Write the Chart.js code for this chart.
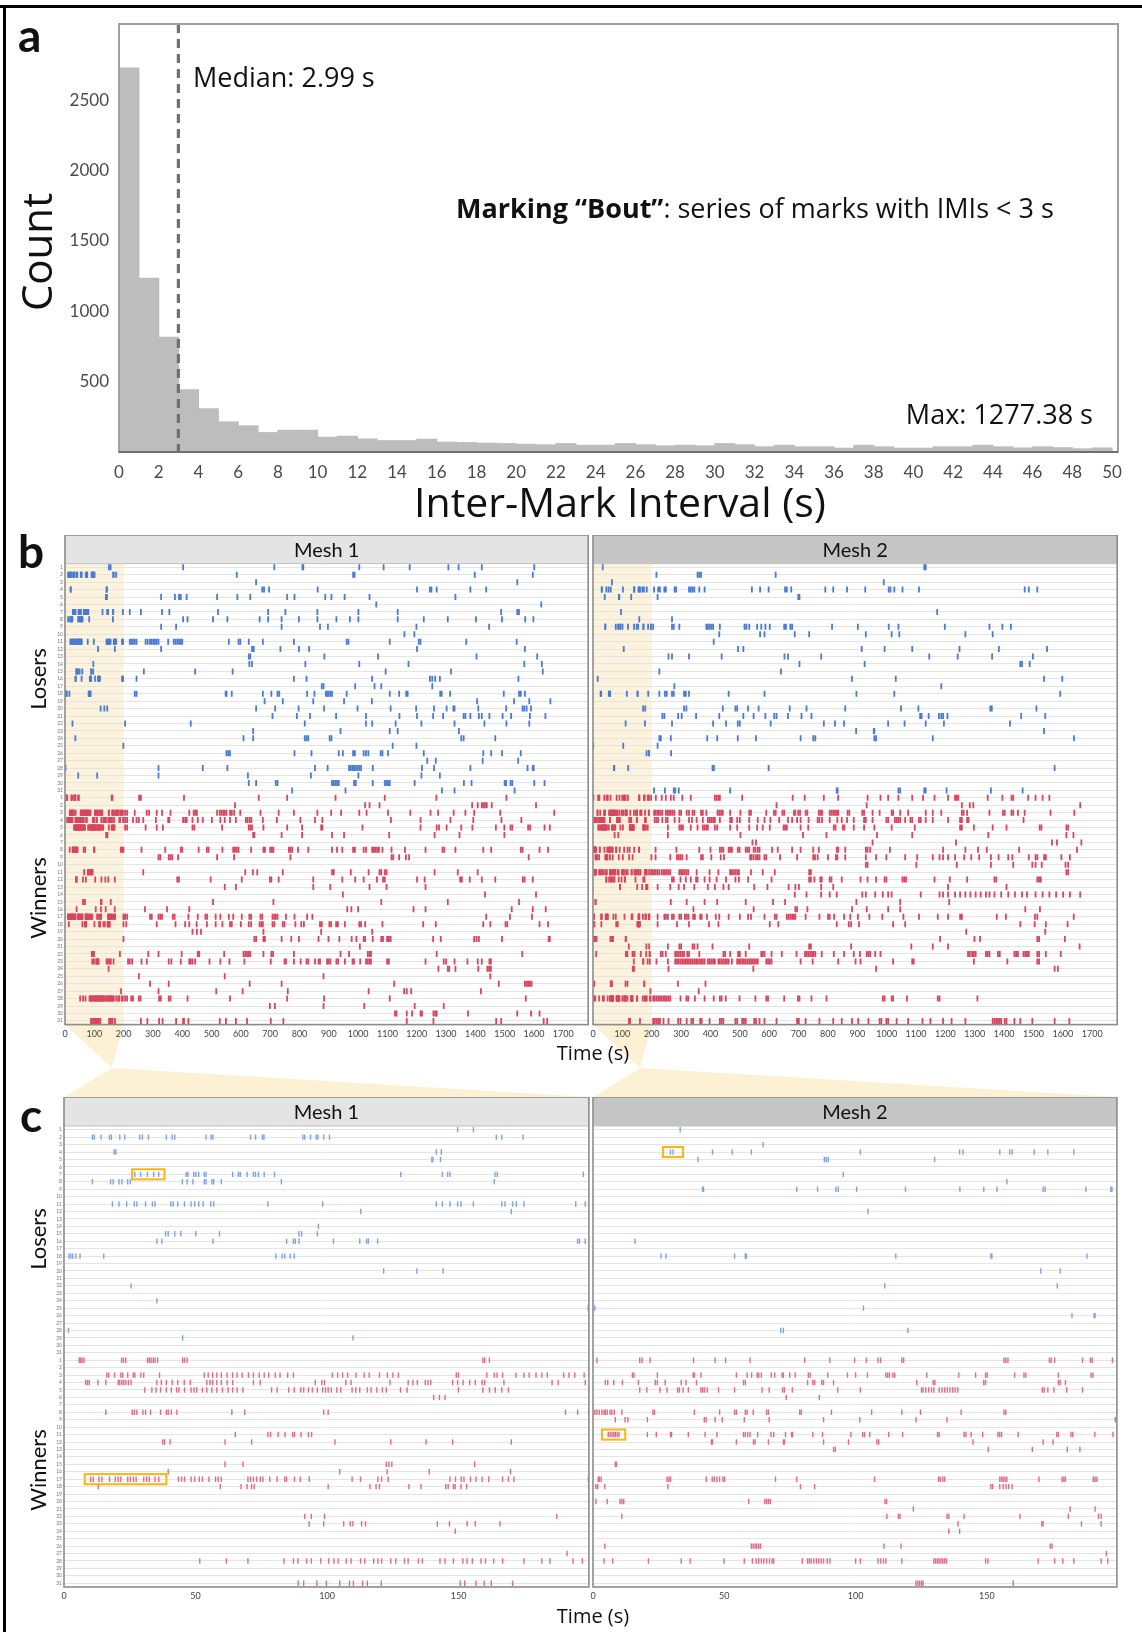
<!DOCTYPE html>
<html><head><meta charset="utf-8">
<script src="https://cdn.jsdelivr.net/npm/chart.js@4.4.1/dist/chart.umd.min.js"></script>
<style>
body{margin:0;background:#fff;}
#page{position:relative;width:1142px;height:1632px;overflow:hidden;font-family:Lato,'Noto Sans',sans-serif;background:#fff;}
canvas{position:absolute;}
.t{position:absolute;white-space:nowrap;color:#111;line-height:1;}
.os{font-family:'Open Sans','Noto Sans',sans-serif;}
.rot{transform:translate(-50%,-50%) rotate(-90deg);}
.lbl{font-weight:bold;font-size:46px;}
</style></head><body><div id="page">
<div style="position:absolute;left:0;top:5px;width:1142px;height:3px;background:#000"></div>
<div style="position:absolute;left:3px;top:5px;width:3px;height:1627px;background:#000"></div>
<canvas id="bg" width="1142" height="1632" style="left:0;top:0"></canvas>
<canvas id="hist" width="1085" height="480" style="left:45px;top:10px"></canvas>
<canvas id="b1" width="553" height="510" style="left:40px;top:535px"></canvas>
<canvas id="b2" width="539" height="510" style="left:583px;top:535px"></canvas>
<canvas id="c1" width="554" height="510" style="left:39px;top:1097px"></canvas>
<canvas id="c2" width="538" height="510" style="left:583px;top:1097px"></canvas>
<div class="t lbl" style="left:18px;top:12px">a</div>
<div class="t rot os" style="left:36px;top:252px;font-size:42px">Count</div>
<div class="t os" style="left:620px;top:501px;transform:translate(-50%,-50%);font-size:41px">Inter-Mark Interval (s)</div>
<div class="t os" style="left:193px;top:76px;transform:translateY(-50%);font-size:27px">Median: 2.99 s</div>
<div class="t os" style="left:456px;top:207px;transform:translateY(-50%);font-size:27px"><b>Marking “Bout”</b>: series of marks with IMIs &lt; 3 s</div>
<div class="t os" style="right:49px;top:413px;transform:translateY(-50%);font-size:27px">Max: 1277.38 s</div>
<div class="t lbl" style="left:18px;top:528px">b</div>
<div class="t rot" style="left:38px;top:679px;font-size:22px">Losers</div>
<div class="t rot" style="left:38px;top:898px;font-size:22px">Winners</div>
<div class="t os" style="left:593px;top:1053px;transform:translate(-50%,-50%);font-size:20px">Time (s)</div>
<div class="t lbl" style="left:20px;top:1092px">c</div>
<div class="t rot" style="left:38px;top:1239px;font-size:22px">Losers</div>
<div class="t rot" style="left:38px;top:1470px;font-size:22px">Winners</div>
<div class="t os" style="left:593px;top:1616px;transform:translate(-50%,-50%);font-size:20px">Time (s)</div>
</div>
<script>
// ---------- Panel a: histogram of inter-mark intervals ----------
const imiBinStarts = [0,1,2,3,4,5,6,7,8,9,10,11,12,13,14,15,16,17,18,19,20,21,22,23,24,25,26,27,28,29,30,31,32,33,34,35,36,37,38,39,40,41,42,43,44,45,46,47,48,49];
const imiCounts = [2727,1234,815,441,306,213,185,137,154,154,104,111,92,80,80,90,69,66,62,59,54,50,59,47,47,59,50,43,47,43,59,50,36,47,36,36,26,47,36,26,26,36,36,47,36,28,36,30,22,28];
const imiMedian = 2.99;
const histXTicks = [0,2,4,6,8,10,12,14,16,18,20,22,24,26,28,30,32,34,36,38,40,42,44,46,48,50];
const histYTicks = [500,1000,1500,2000,2500];

// ---------- Panels b/c: marking rasters ----------
const meshNames = ['Mesh 1','Mesh 2'];
const fullTimeTicks = [0,100,200,300,400,500,600,700,800,900,1000,1100,1200,1300,1400,1500,1600,1700];
const zoomTimeTicks = [0,50,100,150];
const zoomWindow = [0,200];

// marks in the first 200 s, one list per animal
const mesh1LosersEarly = [
[149.6,155.6],
[10.8,11.5,14.1,17.3,18.0,21.2,23.1,28.8,29.8,32.1,38.9,41.1,42.1,54.0,55.9,56.6,70.9,72.8,75.4,76.0,90.8,91.5,93.7,95.8,96.5,98.7,100.9,164.3,166.4,174.5],
[],
[19.0,19.7,141.5,143.4],
[139.8,140.2,143.1],
[],
[26.9,29.1,31.7,34.1,36.0,46.4,47.1,49.3,50.1,51.2,53.3,54.0,64.1,66.3,67.0,69.6,72.0,72.8,73.9,76.1,80.0,128.0,143.8,145.8,146.7,163.8,164.7,197.4],
[10.8,17.7,18.7,20.9,22.0,24.2,25.2,45.0,46.8,49.0,53.3,54.0,56.2,56.9,59.8,82.6,163.5],
[],
[],
[18.4,20.9,23.8,26.7,27.7,31.0,33.6,34.6,40.6,41.5,43.2,45.8,48.3,49.7,51.2,52.9,55.8,56.9,77.5,98.3,141.5,143.8,146.7,149.6,150.9,155.6,166.4,167.6,170.5,171.9,174.8,194.5,198.1],
[112.8,170.0],
[],
[96.7],
[38.6,39.6,42.1,44.4,50.1,59.1,89.3,90.3,96.3],
[35.3,37.2,56.6,84.6,87.2,87.9,89.3,102.4,112.4,115.0,115.7,119.2,195.2,195.9,198.1],
[],
[1.9,2.6,3.3,4.5,6.1,15.1,80.5,82.9,83.9,86.0,87.5],
[],
[121.5,134.1,144.1],
[],
[25.5],
[],
[35.3],
[199.2],
[],
[],
[1.7],
[45.1,109.8],
[],
[]
];
const mesh1WinnersEarly = [
[5.8,6.2,6.9,7.6,21.9,22.6,23.5,31.7,32.4,33.1,33.9,34.6,35.6,45.1,45.8,46.8,159.2,159.9,161.7],
[],
[16.3,17.0,19.2,21.6,22.3,24.2,26.3,26.9,29.2,30.3,36.3,53.3,54.8,56.5,58.1,59.8,62.0,64.1,65.8,67.7,70.1,72.0,74.2,76.1,77.8,80.3,82.1,85.0,87.2,102.0,104.0,105.9,107.8,111.0,114.1,116.0,119.9,122.9,125.0,127.1,149.1,149.9,160.7,163.5,164.6,166.7,171.8,174.8,176.8,179.4,181.6,183.7,189.9,191.9,194.1,197.7],
[8.2,8.9,9.6,12.9,15.9,20.6,21.2,22.0,22.7,23.5,24.5,25.5,35.3,37.0,38.9,41.1,43.2,45.7,48.0,54.3,55.5,56.5,58.1,59.8,62.0,64.1,72.0,74.6,95.5,98.0,99.0,107.1,109.1,123.9,130.8,132.6,134.3,137.3,138.3,139.4,147.7,149.6,151.7,154.2,156.3,158.9,159.9,167.2,185.5,187.8,198.1],
[30.7,33.4,35.0,36.7,38.9,40.8,42.8,43.7,45.8,48.3,49.4,50.4,52.6,54.3,56.2,58.1,60.2,62.4,64.1,65.8,68.0,78.9,81.0,85.4,87.5,90.0,91.1,92.9,94.4,96.3,98.3,99.4,100.4,101.6,103.7,105.2,109.5,110.9,112.4,115.3,116.7,118.9,121.0,122.5,127.9,130.4,149.9,159.2,161.7,163.9,166.4,168.9],
[140.5,142.7,144.8],
[],
[15.9,25.9,26.7,27.7,30.0,31.0,32.9,36.7,38.9,39.6,40.8,42.9,63.8,68.7,98.7,100.4,190.6,195.2,199.4],
[],
[],
[65.1,77.5,78.5,81.4,84.0,86.9,87.6,90.1,92.9,94.1],
[37.5,38.2,40.3,61.2,71.3,103.0,124.2,137.6,147.7,170.0],
[],
[],
[61.2,68.0,122.5,123.5,124.6,156.1],
[39.6,104.8,122.8,138.8,169.7],
[10.1,11.1,13.3,14.4,17.3,19.5,20.6,21.6,24.2,25.2,26.4,27.4,30.3,31.4,32.4,34.6,36.0,43.5,44.7,45.8,48.3,49.7,51.4,52.6,55.1,57.6,58.6,59.8,69.9,70.9,72.0,73.2,74.6,75.6,78.2,81.0,83.9,84.6,87.6,89.8,93.2,109.5,112.7,119.3,120.7,123.2,146.7,148.8,151.0,152.0,154.5,156.6,158.9,161.4,166.7,168.9,171.0,199.3],
[13.0,59.4,67.3,69.6,71.3,72.3,100.4,116.3,118.6,119.9,131.1,135.7,145.1,146.0,148.0,148.7,150.9,153.0,199.4],
[],
[199.5],
[],
[91.5,94.0,99.0,187.3],
[93.2,98.7,106.3,108.8,109.8,113.1,114.6,141.9,146.5,153.2,156.3,165.7],
[148.7],
[],
[],
[191.2],
[51.6,61.7,69.9,83.6,87.2,88.9,92.2,94.0,97.6,100.6,102.6,104.2,107.3,109.1,112.7,114.3,117.7,119.3,120.7,124.2,126.1,129.4,130.8,134.7,136.2,142.9,144.8,148.0,151.6,153.2,155.2,158.5,160.2,163.3,166.7,174.8,181.6,184.7,193.5,197.0],
[],
[],
[89.0,91.1,96.1,99.7,104.8,108.5,110.0,113.5,115.3,120.6,150.6,152.3,156.6,159.7,162.4,170.5]
];
const mesh2LosersEarly = [
[33.2],
[],
[64.8],
[29.5,30.5,45.5,53.0,60.3,101.8,139.6,140.9,154.9,158.7,159.6,168.0,173.2,183.1],
[40.0,88.1,88.8,89.6,130.1],
[],
[95.3],
[157.6],
[41.7,42.1,77.6,85.5,92.5,93.4,100.4,119.0,139.7,148.8,153.8,171.4,172.2,187.7,197.2,197.6],
[],
[],
[104.7],
[],
[],
[],
[16.0],
[],
[25.9,27.8,53.9,58.0,58.4,115.3,151.5,151.9,188.1],
[],
[170.5,177.9],
[],
[111.1,176.8],
[],
[],
[0.7,103.0],
[182.4,190.8,191.2],
[],
[71.5,72.5,119.9],
[],
[],
[]
];
const mesh2WinnersEarly = [
[1.5,17.8,18.7,21.7,38.3,46.5,50.5,59.8,80.6,90.2,99.6,104.1,108.5,109.5,117.6,118.3,156.5,157.2,158.0,173.8,174.5,175.8,186.4,189.4,190.1,197.8],
[],
[15.0,15.6,24.5,38.1,38.6,41.1,54.6,58.7,60.4,62.5,63.1,64.1,67.9,69.2,72.0,72.5,74.9,77.0,82.0,82.7,89.4,96.9,100.0,104.5,111.5,112.2,112.9,114.2,114.9,127.1,139.3,145.7,149.5,150.1,160.6,164.1,164.8,177.2,189.7,190.4],
[4.7,5.6,7.9,11.2,17.3,23.7,24.5,27.5,33.6,35.4,39.4,57.3,58.0,81.7,83.7,84.4,87.1,87.8,91.6,123.3,129.5,130.2,148.8,149.5,177.2,177.9,179.9],
[17.8,20.5,25.5,28.2,32.2,32.9,34.3,36.3,41.1,41.7,42.4,43.5,47.8,53.9,64.4,67.1,72.2,72.9,75.9,93.2,101.8,125.1,125.7,126.7,127.8,128.9,129.8,131.8,132.9,133.9,134.9,135.9,137.0,137.9,138.9,171.1,171.8,173.2,175.5,180.4,186.4],
[73.6,86.2],
[],
[0.7,1.5,2.4,3.4,4.2,4.7,5.4,6.5,7.2,8.1,11.0,22.8,23.4,38.6,48.2,53.9,54.6,58.0,58.7,61.0,66.1,66.8,78.7,79.3,90.8,106.1,117.6,124.7,140.2,156.5,157.2],
[8.5,12.2,13.3,20.7,42.4,43.1,46.5,49.2,57.6,67.1,87.8,101.6,123.0,134.8,198.9],
[],
[5.8,6.5,7.2,7.9,8.5,9.2,9.9,20.7,24.1,29.5,29.9,36.3,42.7,47.2,57.3,58.0,58.9,59.8,62.7,67.8,68.8,73.3,75.6,76.0,83.7,87.4,98.2,102.7,103.4,105.4,112.6,117.9,131.2,131.8,141.3,142.0,144.0,148.4,154.2,154.9,155.6,161.9,176.6,177.2,182.0,182.7,191.1,198.0],
[45.1,45.5,54.6,61.1,61.7,66.8,72.5,72.9,87.8,97.3,108.1,108.8,144.7,171.4,175.2],
[91.6,92.3,150.5,167.3,180.6,185.4],
[],
[8.5,8.9],
[],
[2.0,2.4,3.1,28.2,28.9,29.5,43.1,45.4,46.2,47.2,48.2,49.5,50.1,69.5,77.6,107.2,131.6,132.2,133.2,133.9,154.9,155.6,156.2,156.9,157.6,169.8,178.6,179.3,179.9,190.5,191.2,191.9],
[1.1,1.8,4.5,28.5,79.0,84.4,151.5,152.2,154.9,156.2,157.3,158.3,159.6],
[],
[1.1,5.4,10.3,11.0,11.7,59.3,65.4,66.1,66.8,67.5,111.2,111.8],
[122.0,181.7,191.2],
[11.0,111.9,116.3,116.9,134.8,135.5,141.3,162.6,181.0,192.5,193.5],
[139.0,170.9,171.4,186.0,193.5],
[135.5,139.6],
[],
[4.5,60.3,61.0,61.7,62.3,63.1,63.8,110.8,117.3,174.1,174.8],
[195.5],
[4.2,7.5,21.1,33.6,37.0,49.9,57.6,60.7,62.1,63.1,64.1,65.0,66.1,67.2,68.2,68.8,79.7,81.7,82.4,83.1,84.1,85.1,86.0,86.9,87.8,89.2,90.2,100.0,101.8,108.5,109.5,110.6,111.5,117.6,129.8,130.5,131.2,131.8,132.5,133.2,133.9,134.6,149.5,150.4,169.5,175.8,178.9,183.1,193.5,196.0],
[],
[],
[123.0,123.7,124.4,125.1,125.7,160.0]
];

// marks after 200 s, one list per animal
const mesh1LosersLate = [
[403,714,810,813,1004,1087,1176,1308,1343,1422,1601],
[586,983,988,1398,1596],
[652,1543],
[673,679,696,862,1201,1245,1250,1268,1383,1437],
[328,375,389,395,415,519,588,632,758,783,888,909,954,1039,1332],
[1062,1625],
[221,259,331,356,522,693,752,861,1001,1135,1488,1543,1549],
[403,418,505,554,664,693,739,798,861,926,972,1001,1135,1224,1306,1402,1491,1570,1598],
[328,379,739,870,897,1199,1447],
[1158,1192],
[221,226,232,238,244,275,282,290,296,302,307,313,319,352,371,377,383,389,395,400,559,592,598,627,675,781,961,967,1108,1207,1213,1369,1541],
[328,638,644,735,798,833,1201,1569],
[627,632,885,1068,1404,1611],
[629,638,820,1004,1172,1567,1627],
[269,444,572,1094,1317,1630],
[244,781,824,1048,1245,1253,1263,1279,1547],
[876,882,990,1056,1079,1253],
[238,244,548,551,569,675,704,725,731,826,851,890,894,899,905,911,961,1108,1140,1164,1169,1280,1285,1314,1497,1549,1555,1569],
[681,743,847,952,1047,1406,1532,1584,1656],
[652,717,797,884,998,1111,1198,1259,1302,1325,1329,1410,1505,1561,1567,1575,1590],
[708,791,836,925,1027,1141,1201,1256,1290,1360,1366,1383,1412,1422,1448,1493,1522,1586,1639],
[205,429,818,1027,1048,1128,1216,1329,1431,1506,1584],
[642,940,1108,1135,1344],
[609,642,818,824,830,903,909,1352,1360,1468],
[1118,1199],
[551,557,563,783,841,934,948,983,989,1019,1027,1035,1077,1083,1102,1224,1427,1454,1491,1555],
[1236,1265,1425,1546],
[319,470,554,853,896,969,975,981,986,992,998,1004,1010,1050,1218,1259,1383,1578,1596,1599],
[319,624,839,1001,1216,1279],
[627,652,719,725,911,917,923,928,934,986,992,1050,1091,1097,1102,1108,1193,1361,1387,1500,1505,1520,1526,1601,1636],
[775,957,1286,1329,1534]
];
const mesh1WinnersLate = [
[253,259,406,661,758,923,1091,1267,1506],
[580,1024,1039,1073,1389,1408,1422,1427,1433,1439,1456,1607],
[205,212,238,279,287,313,331,360,424,439,444,450,519,528,534,540,545,551,563,569,577,598,667,729,781,861,908,942,1004,1029,1102,1178,1247,1273,1326,1366,1396,1485,1669],
[205,212,232,244,252,267,310,352,356,403,410,415,435,453,470,501,530,545,563,583,617,623,630,636,675,723,803,853,878,1112,1213,1315,1393,1489,1557],
[205,212,275,313,334,435,441,536,627,632,638,677,758,809,874,878,1015,1213,1268,1276,1302,1352,1390,1470,1499,1520,1526,1580,1587,1636,1654],
[642,646,739,809,911,952,1106,1261,1346,1499],
[],
[261,342,395,400,456,484,490,537,574,580,586,592,635,677,682,700,706,711,764,769,775,795,830,911,928,946,983,989,1019,1027,1048,1054,1059,1065,1071,1083,1114,1160,1230,1288,1294,1332,1427,1454,1555,1561,1619,1648],
[319,325,354,360,366,386,519,577,769,1114,1120,1140,1163,1174,1582],
[],
[267,615,641,656,743,911,917,975,1036,1073,1079,1091,1097,1261,1340,1408],
[383,389,497,603,699,704,729,847,946,990,1019,1064,1085,1091,1201,1227,1348,1354,1381,1422,1468,1562,1568,1596],
[545,583,847,905,1039,1097,1230],
[948,1433,1607],
[505,711,1079,1306,1549],
[273,348,424,963,977,1000,1189,1230,1524,1596,1640],
[201,205,212,290,296,319,325,331,368,374,421,453,479,485,514,530,559,574,603,629,635,667,673,708,714,719,725,754,783,826,844,1437,1518,1593],
[209,313,377,410,424,449,484,514,537,563,569,600,627,635,664,670,675,708,714,743,749,786,806,815,870,876,902,908,925,931,955,1004,1010,1024,1083,1222,1265,1427,1451,1503,1509,1619,1648],
[435,450,464,677,874,1048],
[646,652,677,682,739,772,798,865,899,936,978,994,1019,1024,1050,1079,1085,1099,1105,1111,1256,1282,1396,1404,1412,1491,1650,1654],
[1006],
[284,319,398,453,458,543,609,615,621,627,632,677,704,710,781,940,969,1033,1039,1044,1268,1560],
[215,221,229,261,279,354,363,395,424,429,435,444,493,530,561,612,702,749,754,781,804,824,830,853,865,870,894,899,905,926,932,955,981,986,1007,1027,1033,1039,1044,1099,1105,1230,1292,1300,1329,1373,1408,1422,1448,1453],
[1274,1306,1311,1332,1410,1441,1447,1453],
[252,545,882,1451],
[290,354,630,739,1123,1480,1569,1575,1580,1586,1592],
[319,516,606,760,1036,1157,1166,1181,1419],
[205,212,226,232,252,258,321,327,354,360,418,563,758,884,1108,1572],
[699,716,882,1021,1193,1292],
[1126,1131,1166,1184,1213,1218,1257,1263,1268,1375,1543,1590,1619],
[259,281,321,333,379,403,406,421,528,549,583,621,702,745,1166,1257,1471,1488,1633,1645]
];
const mesh2LosersLate = [
[1128,1133],
[216,356,362,368,622],
[990],
[208,222,228,243,248,278,283,327,333,339,345,362,380,541,569,598,654,660,675,791,818,865,927,1007,1013,1026,1054,1110,1470,1484,1513],
[220,699,703],
[],
[1172],
[269],
[205,269,275,294,386,391,397,403,409,432,516,522,532,559,573,587,602,651,657,672,678,814,902,1007,1040,1198,1350,1394,1423],
[430,569,584,687,736,929,1017,1043,1268,1361],
[411],
[494,512,915,993,1087,1248,1382,1546],
[257,269,327,438,652,664,777,1145,1242,1359,1498],
[703,925,1455,1461,1487],
[226,640],
[882,1031,1536,1598],
[277,1186],
[226,245,251,269,275,310,316,327,462,584,897,1026,1591],
[],
[310,318,442,485,491,528,564,670,727,859,1049,1108,1353,1358,1510],
[236,243,290,302,351,430,512,547,587,617,625,664,710,744,1114,1119,1143,1178,1186,1192,1207,1458,1540],
[269,409,453,493,500,605,786,824,855,1005,1061,1133,1195,1420],
[896,956,958,1536],
[226,231,265,389,423,493,555,707,750,757,958,964,1157,1638],
[220],
[266],
[],
[407,412,598,1572],
[],
[],
[208,245,275,280,292,467,830,833,1040,1046,1128,1133,1204,1355,1463]
];
const mesh2WinnersLate = [
[214,234,248,265,275,304,333,415,421,427,432,508,680,721,786,835,935,979,1005,1040,1087,1124,1163,1209,1233,1239,1244,1344,1394,1425,1431,1482,1507,1531,1554],
[625,932,1256,1283,1295,1659],
[208,213,219,224,230,236,248,254,259,265,271,277,294,300,319,327,339,345,368,374,386,424,430,436,442,467,502,532,538,590,616,622,645,651,684,689,699,705,724,730,769,775,780,806,812,818,824,830,835,867,873,917,923,952,976,1017,1022,1046,1073,1133,1157,1186,1256,1262,1274,1350,1396,1402,1425,1431,1447,1470,1558,1639],
[210,216,222,236,248,254,278,294,327,337,353,374,391,397,403,409,415,432,467,473,491,500,532,561,584,604,634,664,678,695,707,734,765,771,780,806,832,847,865,888,923,929,952,999,1005,1028,1034,1040,1046,1063,1081,1087,1110,1116,1133,1157,1209,1250,1256,1274,1279,1466],
[255,294,300,306,333,356,374,380,386,391,415,423,467,491,532,559,578,602,649,654,660,707,733,820,826,851,856,888,923,958,1017,1096,1250,1256,1297,1361,1408,1521,1527,1612,1618],
[255,502,715,795,967,1087,1346,1612,1636],
[543,555,952,1236,1563,1580,1663],
[213,284,362,400,432,438,444,462,467,473,493,499,520,526,532,547,553,561,567,610,629,678,707,750,769,830,835,859,929,935,944,1011,1192,1268,1311,1341,1451,1648],
[213,263,286,292,298,304,319,368,374,403,435,446,535,540,547,555,561,567,584,590,637,695,750,756,765,800,827,832,859,929,964,999,1063,1104,1157,1180,1192,1209,1233,1264,1288,1315,1355,1381,1414,1428,1484,1507,1513,1536,1542,1595,1624],
[929,935,1101,1239,1355,1431,1496,1507,1528,1609,1618],
[202,208,214,220,226,234,240,245,251,257,263,294,300,306,312,318,324,353,397,427,467,473,479,485,491,497,538,578,619,736,742,1612,1618],
[269,275,298,316,333,351,356,380,397,421,453,485,497,528,608,736,742,754,774,779,806,812,847,911,935,964,993,999,1054,1060,1066,1163,1215,1274,1367,1373,1513,1519,1525],
[220,263,292,310,345,391,415,444,462,549,594,666,689,701,777,818,1209,1408],
[687,727,777,806,830,917,929,961,987,1005,1017,1116,1180,1192,1209,1233,1250,1268,1285,1303,1320,1338,1350,1367,1390,1414,1437,1461,1478,1507,1531,1554,1577,1601,1624,1659],
[265,319,380,423,520,613,654,897,1046,1213],
[342,547,689,695,730,882,932,1005,1046,1472,1522],
[220,243,248,255,269,275,294,300,313,319,325,341,347,365,370,388,418,430,462,500,528,538,584,619,625,660,666,672,678,684,689,724,771,800,806,821,855,876,902,941,985,1057,1110,1174,1209,1250,1256,1375,1406,1505,1513,1637],
[220,286,327,395,427,602,631,830,871,879,906,1022,1063,1455,1504,1542,1616],
[1271,1540],
[1182,1299,1318,1513,1519,1607],
[255,294,300,339,345,356,407,532,736,742,879,1084,1157,1209,1657],
[231,237,248,280,286,292,298,304,310,321,327,362,444,450,467,494,500,520,573,578,584,608,643,693,722,728,734,740,746,751,757,779,820,855,888,909,932,938,944,961,979,1277,1283,1291,1297,1303,1338,1344,1350,1379,1385,1435,1441,1447,1466,1472,1478,1484,1513,1519,1542,1593],
[216,255,280,286,292,298,304,310,316,321,327,333,339,345,351,356,362,368,374,380,391,397,403,409,415,427,432,438,444,450,456,462,473,491,497,502,508,514,520,526,532,538,543,549,555,561,590,596,602,608,707,748,835,894,911,1022,1087,1092,1297,1411,1513,1519],
[257,546,964,1572,1583],
[],
[289,383],
[360],
[205,210,216,222,228,234,240,245,251,257,263,298,318,324,347,380,411,432,438,452,499,553,590,596,651,698,703,744,795,987,993,1017,1022,1069,1174,1180,1309],
[],
[],
[205,210,216,222,228,240,257,290,298,319,335,341,365,370,397,432,438,444,485,491,508,514,520,549,555,567,584,625,695,701,724,771,818,847,882,903,938,976,982,999,1005,1034,1073,1122,1149,1192,1221,1268,1361,1367,1373,1379,1385,1390,1402,1408,1435,1455,1496,1572,1622]
];

// highlighted bouts in panel c: [mesh, group, animal, start s, end s]
const boutBoxes = [
  [1,'L',7,25.9,38.2],
  [1,'W',17,7.9,38.9],
  [2,'L',4,26.6,34.3],
  [2,'W',11,3.4,12.3]
];

// ---------- helpers ----------
const GROUP_SIZE = 31;
const FONT = "Lato, 'Noto Sans', sans-serif";
function toPoints(rows, offset){
  const pts = [];
  rows.forEach((r,i)=>r.forEach(t=>pts.push({x:t, y:i+1+offset})));
  return pts;
}
const rowTickValues = [];
for (let i=1;i<=2*GROUP_SIZE;i++) rowTickValues.push(i);
const noPad = s => { s.paddingTop = 0; s.paddingBottom = 0; s.paddingLeft = 0; s.paddingRight = 0; };

// ---------- Panel a ----------
const histPlugin = {
  id:'histDecor',
  afterDatasetsDraw(chart){
    const {ctx, chartArea:a, scales:{x}} = chart;
    const mx = x.getPixelForValue(imiMedian);
    ctx.save();
    ctx.strokeStyle = '#707070'; ctx.lineWidth = 3.2; ctx.setLineDash([9,6]);
    ctx.beginPath(); ctx.moveTo(mx, a.top); ctx.lineTo(mx, a.bottom); ctx.stroke();
    ctx.restore();
  },
  afterDraw(chart){
    const {ctx, chartArea:a} = chart;
    ctx.save();
    ctx.strokeStyle = '#a0a0a0'; ctx.lineWidth = 2;
    ctx.strokeRect(a.left, a.top, a.right-a.left, a.bottom-a.top);
    ctx.strokeStyle = '#6e6e6e'; ctx.lineWidth = 2;
    ctx.beginPath(); ctx.moveTo(a.left, a.bottom); ctx.lineTo(a.right, a.bottom); ctx.stroke();
    ctx.restore();
  }
};
new Chart(document.getElementById('hist'), {
  type:'bar',
  data:{datasets:[{
    data: imiBinStarts.map((b,i)=>({x:b+0.5, y:imiCounts[i]})),
    backgroundColor:'#bdbdbd', borderWidth:0, barPercentage:1, categoryPercentage:1, inflateAmount:0.6
  }]},
  options:{
    responsive:false, animation:false, events:[],
    layout:{padding:{top:14,right:12,left:0,bottom:0}},
    plugins:{legend:{display:false}, tooltip:{enabled:false}},
    scales:{
      x:{type:'linear', min:0, max:50.3, offset:false,
         afterBuildTicks:s=>{s.ticks = histXTicks.map(v=>({value:v}));},
         afterFit:s=>{s.height = 38; noPad(s);},
         grid:{display:false, drawTicks:false}, border:{display:false},
         ticks:{font:{family:FONT,size:17}, color:'#4a4a4a', padding:10, maxRotation:0, autoSkip:false, callback:v=>String(v)}},
      y:{min:0, max:3040,
         afterBuildTicks:s=>{s.ticks = histYTicks.map(v=>({value:v}));},
         afterFit:s=>{s.width = 74; noPad(s);},
         grid:{display:false, drawTicks:false}, border:{display:false},
         ticks:{font:{family:FONT,size:17}, color:'#4a4a4a', padding:10, callback:v=>String(v)}}
    }
  },
  plugins:[histPlugin]
});

// ---------- Panels b and c ----------
function rasterChart(id, cfg){
  const decor = {
    id:'rasterDecor',
    beforeDraw(chart){
      const {ctx, chartArea:a, scales:{x}} = chart;
      ctx.save();
      if (cfg.shade){
        const x1 = x.getPixelForValue(zoomWindow[1]);
        const x0 = x.getPixelForValue(zoomWindow[0]);
        ctx.fillStyle = '#fdf3dc';
        ctx.fillRect(x0, a.top, x1-x0, a.bottom-a.top);
      }
      ctx.fillStyle = cfg.stripColor;
      ctx.fillRect(a.left, a.top-cfg.stripH, a.right-a.left, cfg.stripH);
      ctx.fillStyle = '#111';
      ctx.font = '20px ' + FONT;
      ctx.textAlign = 'center'; ctx.textBaseline = 'middle';
      ctx.fillText(cfg.title, (a.left+a.right)/2, a.top - cfg.stripH/2 + 1);
      ctx.restore();
    },
    afterDatasetsDraw(chart){
      const {ctx, scales:{x,y}} = chart;
      ctx.save();
      ctx.strokeStyle = '#f6b60f'; ctx.lineWidth = 2;
      boutBoxes.filter(b=>b[0]===cfg.mesh && cfg.boxes).forEach(b=>{
        const row = b[2] + (b[1]==='W' ? GROUP_SIZE : 0);
        const x0 = x.getPixelForValue(b[3]), x1 = x.getPixelForValue(b[4]);
        const y0 = y.getPixelForValue(row-0.68), y1 = y.getPixelForValue(row+0.68);
        ctx.strokeRect(x0, Math.min(y0,y1), x1-x0, Math.abs(y1-y0));
      });
      ctx.restore();
    },
    afterDraw(chart){
      const {ctx, chartArea:a} = chart;
      ctx.save();
      ctx.strokeStyle = '#c0c0c0'; ctx.lineWidth = 1;
      ctx.beginPath(); ctx.moveTo(a.left, a.top); ctx.lineTo(a.right, a.top); ctx.stroke();
      ctx.strokeStyle = '#8c8c8c'; ctx.lineWidth = 1.6;
      ctx.strokeRect(a.left, a.top-cfg.stripH, a.right-a.left, a.bottom-a.top+cfg.stripH);
      ctx.restore();
    }
  };
  const ds = (pts,color)=>({data:pts, showLine:false, pointStyle:'line', pointRotation:90,
      pointRadius:cfg.tickR, pointHoverRadius:cfg.tickR, pointBorderWidth:cfg.tickW, pointHoverBorderWidth:cfg.tickW,
      pointBorderColor:color, borderColor:color, backgroundColor:color});
  return new Chart(document.getElementById(id), {
    type:'scatter',
    data:{datasets:[ds(cfg.losers, cfg.blue), ds(cfg.winners, cfg.red)]},
    options:{
      responsive:false, animation:false, events:[],
      layout:{padding:{top:cfg.stripH, left:cfg.padL, right:0, bottom:0}},
      plugins:{legend:{display:false}, tooltip:{enabled:false}},
      scales:{
        x:{type:'linear', min:0, max:cfg.xMax,
           afterBuildTicks:s=>{s.ticks = cfg.xTicks.map(v=>({value:v}));},
           afterFit:s=>{s.height = cfg.xAxisH; noPad(s);},
           grid:{display:false, drawTicks:false}, border:{display:false},
           ticks:{font:{family:FONT,size:9}, color:'#444', padding:4, maxRotation:0, autoSkip:false, callback:v=>String(v)}},
        y:{type:'linear', min:0.5, max:2*GROUP_SIZE+0.5, reverse:true,
           afterBuildTicks:s=>{s.ticks = rowTickValues.map(v=>({value:v}));},
           afterFit:s=>{s.width = cfg.yAxisW; noPad(s);},
           grid:{color:'#e4e4e4', lineWidth:1, drawTicks:false}, border:{display:false},
           ticks:{display:cfg.rowLabels, font:{family:FONT,size:5}, color:'#777', padding:2, autoSkip:false,
                  callback:v=> String(v>GROUP_SIZE ? v-GROUP_SIZE : v)}}
      }
    },
    plugins:[decor]
  });
}

const bBlue = '#4a7bd2', bRed = '#d8455f';
const cBlue = '#7ea2e4', cRed = '#e26a82';
const early = [[mesh1LosersEarly, mesh1WinnersEarly],[mesh2LosersEarly, mesh2WinnersEarly]];
const late  = [[mesh1LosersLate, mesh1WinnersLate],[mesh2LosersLate, mesh2WinnersLate]];

const bCharts = [0,1].map(m => rasterChart('b'+(m+1), {
  mesh:m+1, title:meshNames[m], stripColor: m===0 ? '#e4e4e4' : '#c5c5c5',
  stripH:28.6, xAxisH:20.4, yAxisW: m===0 ? 25 : 0, padL: m===0 ? 0 : 10,
  rowLabels: m===0, xMax:1785, xTicks:fullTimeTicks, shade:true, boxes:false,
  tickR:3, tickW:1.8, blue:bBlue, red:bRed,
  losers: toPoints(early[m][0],0).concat(toPoints(late[m][0],0)),
  winners: toPoints(early[m][1],GROUP_SIZE).concat(toPoints(late[m][1],GROUP_SIZE))
}));
const cCharts = [0,1].map(m => rasterChart('c'+(m+1), {
  mesh:m+1, title:meshNames[m], stripColor: m===0 ? '#e4e4e4' : '#c5c5c5',
  stripH:29, xAxisH:20, yAxisW: m===0 ? 25 : 0, padL: m===0 ? 0 : 10,
  rowLabels: m===0, xMax:199.5, xTicks:zoomTimeTicks, shade:false, boxes:true,
  tickR:2.7, tickW:1.4, blue:cBlue, red:cRed,
  losers: toPoints(early[m][0],0),
  winners: toPoints(early[m][1],GROUP_SIZE)
}));

// ---------- zoom wedges connecting b (0-200 s) to c ----------
(function(){
  const bg = document.getElementById('bg').getContext('2d');
  bg.fillStyle = '#fdf1d4';
  const pg = document.getElementById('page').getBoundingClientRect();
  [0,1].forEach(m=>{
    const bc = bCharts[m], cc = cCharts[m];
    const bOff = bc.canvas.getBoundingClientRect(), cOff = cc.canvas.getBoundingClientRect();
    const bx0 = bOff.left - pg.left + bc.scales.x.getPixelForValue(zoomWindow[0]);
    const bx1 = bOff.left - pg.left + bc.scales.x.getPixelForValue(zoomWindow[1]);
    const by = bOff.top - pg.top + bc.chartArea.bottom;
    const cx0 = cOff.left - pg.left + cc.chartArea.left;
    const cx1 = cOff.left - pg.left + cc.chartArea.right;
    const cy = cOff.top - pg.top + cc.chartArea.top - 29;
    const ax = bx0 + (bx1-bx0)*0.8, ay = 1068;
    bg.beginPath(); bg.moveTo(bx0,by); bg.lineTo(bx1,by); bg.lineTo(ax,ay); bg.closePath(); bg.fill();
    bg.beginPath(); bg.moveTo(ax,ay); bg.lineTo(cx1,cy); bg.lineTo(cx0,cy); bg.closePath(); bg.fill();
  });
})();
</script>
</body></html>
